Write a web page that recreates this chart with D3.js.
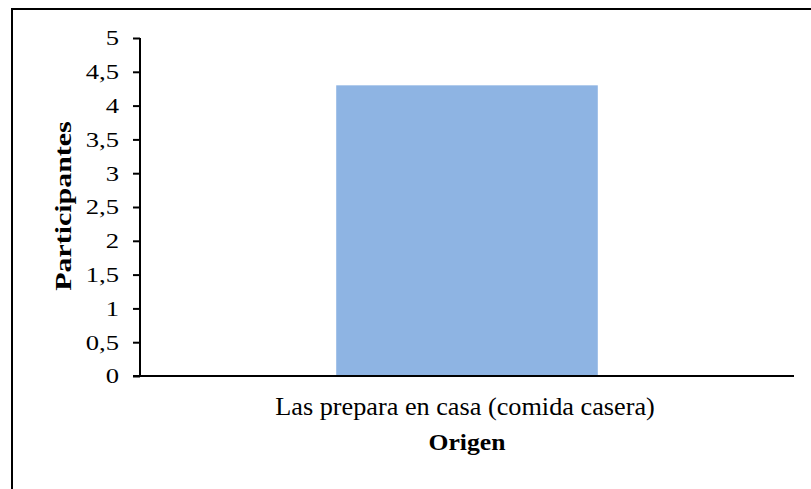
<!DOCTYPE html>
<html>
    <head>
        <style>
        body {
            margin: 0;
            background: #fff;
        }
        svg {
            display: block;
        }
        </style>
    </head>
    <body>
        <svg width="811" height="489"></svg>

        <script src="https://cdnjs.cloudflare.com/ajax/libs/d3/7.8.5/d3.min.js"></script>
        <script>
            let categories = ["Las prepara en casa (comida casera)"];
            let values = [4.3];
            let yTicks = [0, 0.5, 1, 1.5, 2, 2.5, 3, 3.5, 4, 4.5, 5];

            const width = 811;
            const height = 489;
            const margin = {top: 38, left: 140, right: 17, bottom: 113};
            const serif = "'Liberation Serif', 'Times New Roman', serif";

            let svg = d3.select("svg");

            // frame round the chart, runs off the right and bottom edge
            svg.append("rect")
                .attr("x", 12)
                .attr("y", 9)
                .attr("width", 820)
                .attr("height", 500)
                .attr("fill", "none")
                .attr("stroke", "#000")
                .attr("stroke-width", 2);

            let xScale = d3.scaleBand()
                .domain(categories)
                .range([margin.left, width - margin.right])
                .padding(0.4286);

            let yScale = d3.scaleLinear()
                .domain([0, 5])
                .range([height - margin.bottom, margin.top]);

            svg.selectAll(".bar")
                .data(values)
                .enter().append("rect")
                .attr("class", "bar")
                .attr("x", (d, i) => xScale(categories[i]))
                .attr("y", d => yScale(d))
                .attr("width", xScale.bandwidth())
                .attr("height", d => yScale(0) - yScale(d))
                .attr("fill", "#8EB4E3");

            let yAxis = d3.axisLeft(yScale)
                .tickValues(yTicks)
                .tickSize(7)
                .tickFormat(d => String(d).replace(".", ","));

            let gy = svg.append("g")
                .attr("transform", "translate(" + [margin.left, 0] + ")")
                .call(yAxis);
            gy.select(".domain").attr("stroke", "#000").attr("stroke-width", 2)
                .attr("d", "M0," + yScale(5) + "V" + yScale(0));
            gy.selectAll(".tick line").attr("stroke-width", 2);
            // the labels in the picture are a bit wide, so stretch them sideways
            gy.selectAll(".tick text")
                .attr("x", 0)
                .attr("dy", "0.34em")
                .attr("transform", "translate(-21,0) scale(1.3,1)")
                .attr("font-family", serif)
                .attr("font-size", "20.5px")
                .attr("fill", "#000");

            let xAxis = d3.axisBottom(xScale)
                .tickSize(0);

            let gx = svg.append("g")
                .attr("transform", "translate(" + [0, height - margin.bottom] + ")")
                .call(xAxis);
            gx.select(".domain").attr("stroke", "#000").attr("stroke-width", 2)
                .attr("d", "M" + (margin.left - 7) + ",0H" + (width - margin.right));
            gx.selectAll(".tick text")
                .attr("y", 0)
                .attr("dy", 0)
                .attr("transform", "translate(-2,39) scale(1.05,1)")
                .attr("font-family", serif)
                .attr("font-size", "25px")
                .attr("fill", "#000");

            svg.append("text")
                .attr("transform", "translate(467,450) scale(1.14,1)")
                .attr("text-anchor", "middle")
                .attr("font-family", serif)
                .attr("font-weight", "bold")
                .attr("font-size", "22.5px")
                .text("Origen");

            svg.append("text")
                .attr("transform", "translate(71,206) rotate(-90) scale(1.3,1)")
                .attr("text-anchor", "middle")
                .attr("font-family", serif)
                .attr("font-weight", "bold")
                .attr("font-size", "23px")
                .text("Participantes");
        </script>
    </body>
</html>
